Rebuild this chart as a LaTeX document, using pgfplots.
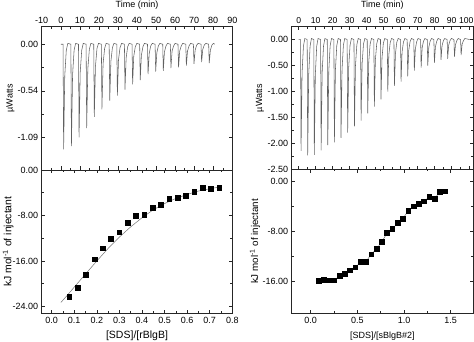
\documentclass[border=0pt]{standalone}
\usepackage{pgfplots}
\pgfplotsset{compat=1.18}
\usepackage{fontspec}
\setmainfont{Liberation Sans}
\begin{document}
\begin{tikzpicture}[x=1pt,y=1pt]
\useasboundingbox (0,0) rectangle (474,342);
\pgfplotsset{
 itc/.style={
  scale only axis,
  anchor=south west,
  font=\fontsize{9}{10}\selectfont,
  axis line style={black!85, line width=0.6pt},
  every tick/.style={black!85, line width=0.5pt},
  major tick length=3.5pt, minor tick length=2pt,
  tick align=inside,
  xtick pos=both, ytick pos=both, yticklabel pos=left,
  minor x tick num=1, minor y tick num=1,
  ylabel style={anchor=center, rotate=0},
  xlabel style={anchor=center},
 },
 trace/.style={black!62, line width=0.55pt, mark=none},
 pts/.style={black!55, line width=0.5pt, mark=square*, mark size=2.4pt, mark options={black, solid}},
}
% ---------------- left top ----------------
\begin{axis}[itc,
  at={(41.7pt,172pt)}, width=190.6pt, height=143.3pt,
  xmin=-10, xmax=90, ymin=-1.47, ymax=0.205,
  xticklabel pos=upper,
  xtick={-10,0,...,90}, xticklabels={-10,0,10,20,30,40,50,60,70,80,90},
  ytick={0,-0.545,-1.09}, yticklabels={0.00,-0.54,-1.09},
  xlabel={Time (min)}, xlabel style={at={(axis description cs:0.5,1.151)}},
  ylabel={\textmu Watts}, ylabel style={at={(axis description cs:-0.164,0.5)}},
]
\addplot[trace] coordinates {
(0,0)
(1.2,0)(1.5,-1.23)(2.1,-0.37)(2.9,-0.07)(3.7,0.01)
(5.3,0)(5.6,-1.19)(6.2,-0.36)(7.0,-0.07)(7.8,0.01)
(9.3,0)(9.6,-1.09)(10.2,-0.33)(11.0,-0.07)(11.8,0.01)
(13.3,0)(13.6,-0.98)(14.2,-0.29)(15.0,-0.06)(15.8,0.01)
(17.3,0)(17.6,-0.85)(18.2,-0.26)(19.0,-0.05)(19.8,0.01)
(21.3,0)(21.6,-0.76)(22.2,-0.23)(23.0,-0.05)(23.8,0.01)
(25.4,0)(25.7,-0.66)(26.3,-0.20)(27.1,-0.04)(27.9,0.01)
(29.4,0)(29.7,-0.60)(30.3,-0.18)(31.1,-0.04)(31.9,0.01)
(33.4,0)(33.7,-0.53)(34.3,-0.16)(35.1,-0.03)(35.9,0.01)
(37.4,0)(37.7,-0.47)(38.3,-0.14)(39.1,-0.03)(39.9,0.01)
(41.4,0)(41.7,-0.42)(42.3,-0.13)(43.1,-0.03)(43.9,0.01)
(45.5,0)(45.8,-0.35)(46.4,-0.11)(47.2,-0.02)(48.0,0.01)
(49.5,0)(49.8,-0.32)(50.4,-0.10)(51.2,-0.02)(52.0,0.01)
(53.5,0)(53.8,-0.31)(54.4,-0.09)(55.2,-0.02)(56.0,0.01)
(57.5,0)(57.8,-0.28)(58.4,-0.08)(59.2,-0.02)(60.0,0.01)
(61.5,0)(61.8,-0.27)(62.4,-0.08)(63.2,-0.02)(64.0,0.01)
(65.6,0)(65.9,-0.25)(66.5,-0.08)(67.3,-0.02)(68.1,0.01)
(69.6,0)(69.9,-0.23)(70.5,-0.07)(71.3,-0.01)(72.1,0.01)
(73.6,0)(73.9,-0.21)(74.5,-0.06)(75.3,-0.01)(76.1,0.01)
(77.6,0)(77.9,-0.22)(78.5,-0.07)(79.3,-0.01)(80.1,0.01)
(80.8,0)
};
\end{axis}
% ---------------- left bottom ----------------
\begin{axis}[itc,
  at={(41.7pt,28.7pt)}, width=190.6pt, height=143.3pt,
  xmin=-0.044, xmax=0.8, ymin=-25.2, ymax=0,
  xtick={0,0.1,...,0.8}, xticklabels={0.0,0.1,0.2,0.3,0.4,0.5,0.6,0.7,0.8},
  ytick={0,-8,-16,-24}, yticklabels={0.00,-8.00,-16.00,-24.00},
  xlabel={[SDS]/[rBlgB]}, xlabel style={font=\fontsize{10.5}{12}\selectfont, at={(axis description cs:0.5,-0.158)}},
  ylabel={kJ mol\textsuperscript{-1} of injectant}, ylabel style={font=\fontsize{10.4}{12}\selectfont, at={(axis description cs:-0.176,0.5)}},
]
\addplot[black!55, line width=0.5pt] coordinates {
(0.041,-23.3)(0.07,-22.0)(0.10,-20.6)(0.15,-18.3)(0.20,-16.0)(0.25,-13.8)(0.30,-11.8)(0.35,-10.0)(0.40,-8.4)(0.45,-7.0)(0.50,-5.9)(0.55,-5.0)(0.60,-4.3)(0.65,-3.7)(0.70,-3.3)(0.742,-3.0)
};
\addplot[only marks, mark=square*, mark size=2.4pt, black] coordinates {
(0.078,-22.24)(0.115,-20.66)(0.152,-18.38)(0.189,-15.69)(0.226,-13.75)(0.262,-12.12)(0.299,-10.94)(0.336,-9.25)(0.373,-8.02)(0.410,-7.84)(0.447,-6.61)(0.484,-6.15)(0.521,-5.09)(0.558,-4.92)(0.594,-4.45)(0.631,-3.86)(0.668,-3.10)(0.705,-3.22)(0.742,-3.16)
};
\end{axis}
% ---------------- right top ----------------
\begin{axis}[itc,
  at={(291.7pt,172.5pt)}, width=181.3pt, height=142.8pt,
  xmin=-4.1, xmax=102.5, ymin=-2.5, ymax=0.247,
  xticklabel pos=upper,
  xtick={0,10,...,100}, xticklabels={0,10,20,30,40,50,60,70,80,90,\hspace*{-5pt}100},
  xticklabel style={font=\fontsize{8.6}{10}\selectfont},
  ytick={0,-0.5,-1,-1.5,-2,-2.5}, yticklabels={0.00,-0.50,-1.00,-1.50,-2.00,-2.50},
  xlabel={Time (min)}, xlabel style={at={(axis description cs:0.5,1.151)}},
  ylabel={\textmu Watts}, ylabel style={at={(axis description cs:-0.175,0.5)}},
]
\addplot[trace] coordinates {
(0,0)
(1.1,0)(1.4,-2.14)(2.0,-0.64)(2.8,-0.13)(3.6,0.02)
(5.0,0)(5.3,-2.23)(5.9,-0.67)(6.7,-0.13)(7.5,0.02)
(8.9,0)(9.2,-2.22)(9.8,-0.67)(10.6,-0.13)(11.4,0.02)
(12.9,0)(13.2,-2.13)(13.8,-0.64)(14.6,-0.13)(15.4,0.02)
(16.8,0)(17.1,-2.03)(17.7,-0.61)(18.5,-0.12)(19.3,0.02)
(20.7,0)(21.0,-1.98)(21.6,-0.59)(22.4,-0.12)(23.2,0.02)
(24.6,0)(24.9,-1.89)(25.5,-0.57)(26.3,-0.11)(27.1,0.02)
(28.5,0)(28.8,-1.79)(29.4,-0.54)(30.2,-0.11)(31.0,0.02)
(32.5,0)(32.8,-1.67)(33.4,-0.50)(34.2,-0.10)(35.0,0.02)
(36.4,0)(36.7,-1.56)(37.3,-0.47)(38.1,-0.09)(38.9,0.02)
(40.3,0)(40.6,-1.42)(41.2,-0.43)(42.0,-0.09)(42.8,0.02)
(44.2,0)(44.5,-1.29)(45.1,-0.39)(45.9,-0.08)(46.7,0.02)
(48.1,0)(48.4,-1.15)(49.0,-0.35)(49.8,-0.07)(50.6,0.02)
(52.1,0)(52.4,-1.00)(53.0,-0.30)(53.8,-0.06)(54.6,0.02)
(56.0,0)(56.3,-0.89)(56.9,-0.27)(57.7,-0.05)(58.5,0.02)
(59.9,0)(60.2,-0.81)(60.8,-0.24)(61.6,-0.05)(62.4,0.02)
(63.8,0)(64.1,-0.71)(64.7,-0.21)(65.5,-0.04)(66.3,0.02)
(67.7,0)(68.0,-0.60)(68.6,-0.18)(69.4,-0.04)(70.2,0.02)
(71.7,0)(72.0,-0.54)(72.6,-0.16)(73.4,-0.03)(74.2,0.02)
(75.6,0)(75.9,-0.50)(76.5,-0.15)(77.3,-0.03)(78.1,0.02)
(79.5,0)(79.8,-0.45)(80.4,-0.14)(81.2,-0.03)(82.0,0.02)
(83.4,0)(83.7,-0.39)(84.3,-0.12)(85.1,-0.02)(85.9,0.02)
(87.3,0)(87.6,-0.37)(88.2,-0.11)(89.0,-0.02)(89.8,0.02)
(91.3,0)(91.6,-0.33)(92.2,-0.10)(93.0,-0.02)(93.8,0.02)
(95.2,0)(95.5,-0.30)(96.1,-0.09)(96.9,-0.02)(97.7,0.02)
(100.5,0)
};
\end{axis}
% ---------------- right bottom ----------------
\begin{axis}[itc,
  at={(291.7pt,28.7pt)}, width=181.3pt, height=143.8pt,
  xmin=-0.204, xmax=1.739, ymin=-21.2, ymax=1.9,
  xtick={0,0.5,1,1.5}, xticklabels={0.0,0.5,1.0,1.5},
  ytick={0,-8,-16}, yticklabels={0.00,-8.00,-16.00},
  xlabel={[SDS]/[sBlgB\#2]}, xlabel style={at={(axis description cs:0.5,-0.156)}},
  ylabel={kJ mol\textsuperscript{-1} of injectant}, ylabel style={font=\fontsize{9.8}{11}\selectfont, at={(axis description cs:-0.202,0.5)}},
]
\addplot[pts] coordinates {
(0.082,-16.00)(0.139,-15.79)(0.195,-15.89)(0.252,-15.89)(0.308,-15.20)(0.365,-14.83)(0.422,-14.29)(0.478,-13.81)(0.535,-12.96)(0.591,-12.91)(0.648,-11.73)(0.705,-10.88)(0.761,-9.71)(0.818,-8.32)(0.874,-7.68)(0.931,-6.67)(0.988,-5.97)(1.044,-4.75)(1.101,-4.00)(1.157,-3.63)(1.214,-3.20)(1.271,-2.51)(1.327,-2.77)(1.384,-1.71)(1.440,-1.60)
};
\end{axis}
\end{tikzpicture}
\end{document}
